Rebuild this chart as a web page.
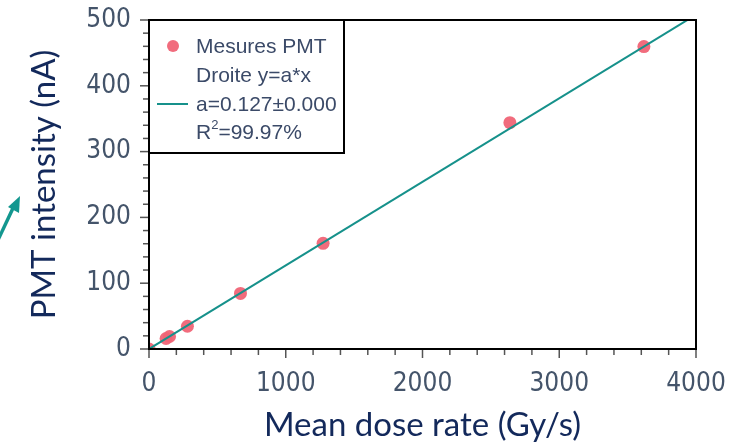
<!DOCTYPE html>
<html>
<head>
<meta charset="utf-8">
<script src="https://cdn.jsdelivr.net/npm/chart.js@4.4.0/dist/chart.umd.min.js"></script>
<style>
  html, body { margin: 0; padding: 0; background: #fff; }
  #wrap { width: 730px; height: 445px; }
</style>
</head>
<body>
<div id="wrap"><canvas id="myChart" width="730" height="445"></canvas></div>
<script>
// measured points (Gy/s, nA)
const doseRate = [0, 125, 150, 281, 669, 1273, 2639, 3619];
const pmtCurrent = [0, 16, 19, 34.6, 84.4, 160.6, 344, 459.6];

// fitted line y = a*x, end points
const fitX = [0, 4000];
const fitY = [0, 508];

const xTicksMajor = [0, 1000, 2000, 3000, 4000];
const yTicksMajor = [0, 100, 200, 300, 400, 500];

const legendLines = ["Mesures PMT", "Droite y=a*x", "a=0.127\u00b10.000", "R2=99.97%"];

const tickColor = "#44546a";
const titleColor = "#13295b";
const dotColor = "rgba(240, 100, 118, 0.95)";
const lineColor = "#16918b";

// frame, minor/major ticks, legend box and the little arrow
const decoPlugin = {
    id: "deco",
    afterDraw(chart) {
        const ctx = chart.ctx;
        const a = chart.chartArea;
        const xs = chart.scales.x;
        const ys = chart.scales.y;
        ctx.save();

        // tick marks
        ctx.strokeStyle = "#555";
        ctx.lineWidth = 1.5;
        xs.ticks.forEach((t) => {
            const px = xs.getPixelForValue(t.value);
            const len = xTicksMajor.includes(t.value) ? 9 : 6;
            ctx.beginPath();
            ctx.moveTo(px, a.bottom);
            ctx.lineTo(px, a.bottom + len);
            ctx.stroke();
        });
        ys.ticks.forEach((t) => {
            const py = ys.getPixelForValue(t.value);
            const len = yTicksMajor.includes(t.value) ? 9 : 6;
            ctx.beginPath();
            ctx.moveTo(a.left, py);
            ctx.lineTo(a.left - len, py);
            ctx.stroke();
        });

        // frame
        ctx.strokeStyle = "#000";
        ctx.lineWidth = 2;
        ctx.strokeRect(a.left, a.top, a.right - a.left, a.bottom - a.top);

        // legend box
        const lx = a.left, ly = a.top;
        ctx.fillStyle = "#fff";
        ctx.fillRect(lx, ly, 195, 133);
        ctx.strokeRect(lx, ly, 195, 133);

        ctx.fillStyle = dotColor;
        ctx.beginPath();
        ctx.arc(lx + 24, ly + 26, 6, 0, Math.PI * 2);
        ctx.fill();

        ctx.strokeStyle = lineColor;
        ctx.lineWidth = 2;
        ctx.beginPath();
        ctx.moveTo(lx + 8, ly + 84);
        ctx.lineTo(lx + 39, ly + 84);
        ctx.stroke();

        const big = "21px 'Liberation Sans', Arial, sans-serif";
        ctx.fillStyle = "#3b4a68";
        ctx.font = big;
        ctx.textBaseline = "middle";
        ctx.textAlign = "left";
        const tx = lx + 47;
        ctx.fillText(legendLines[0], tx, ly + 27);
        ctx.fillText(legendLines[1], tx, ly + 56);
        ctx.fillText(legendLines[2], tx, ly + 85);
        // R^2 with superscript
        ctx.fillText("R", tx, ly + 113);
        const rw = ctx.measureText("R").width;
        ctx.font = "13px 'Liberation Sans', Arial, sans-serif";
        ctx.fillText("2", tx + rw, ly + 105);
        const sw = ctx.measureText("2").width;
        ctx.font = big;
        ctx.fillText("=99.97%", tx + rw + sw, ly + 113);

        // arrow at the left edge
        ctx.strokeStyle = "#13978f";
        ctx.fillStyle = "#13978f";
        ctx.lineWidth = 3.5;
        ctx.beginPath();
        ctx.moveTo(-2, 240);
        ctx.lineTo(14, 206);
        ctx.stroke();
        ctx.beginPath();
        ctx.moveTo(20, 196);
        ctx.lineTo(19, 213);
        ctx.lineTo(8, 207);
        ctx.closePath();
        ctx.fill();

        ctx.restore();
    },
};

const ctx = document.getElementById("myChart").getContext("2d");
const chart = new window.Chart(ctx, {
    type: "scatter",
    data: {
        datasets: [
            {
                label: "Droite y=a*x",
                type: "line",
                data: fitX.map((x, i) => ({ x: x, y: fitY[i] })),
                borderColor: lineColor,
                borderWidth: 2,
                pointRadius: 0,
                fill: false,
            },
            {
                label: "Mesures PMT",
                data: doseRate.map((x, i) => ({ x: x, y: pmtCurrent[i] })),
                backgroundColor: dotColor,
                borderWidth: 0,
                pointRadius: 6.5,
            },
        ],
    },
    plugins: [decoPlugin],
    options: {
        responsive: false,
        animation: false,
        layout: {
            padding: { top: 20, right: 34, left: 0, bottom: 0 },
        },
        plugins: {
            legend: { display: false },
            tooltip: { enabled: false },
        },
        scales: {
            x: {
                type: "linear",
                min: 0,
                max: 4000,
                afterFit: (scale) => {
                    scale.height = 96;
                    scale.paddingLeft = 0;
                    scale.paddingRight = 0;
                },
                grid: { display: false, drawTicks: false },
                border: { display: false },
                ticks: {
                    stepSize: 200,
                    autoSkip: false,
                    maxRotation: 0,
                    padding: 20,
                    color: tickColor,
                    font: { family: "'DejaVu Sans Condensed', 'DejaVu Sans'", size: 26 },
                    callback: (v) => (xTicksMajor.includes(v) ? v : ""),
                },
                title: {
                    display: true,
                    text: "Mean dose rate (Gy/s)",
                    color: titleColor,
                    font: { family: "Lato", size: 33 },
                    padding: { top: 0, bottom: 0 },
                },
            },
            y: {
                type: "linear",
                min: 0,
                max: 500,
                afterFit: (scale) => {
                    scale.width = 149;
                    scale.paddingTop = 0;
                    scale.paddingBottom = 0;
                },
                grid: { display: false, drawTicks: false },
                border: { display: false },
                ticks: {
                    stepSize: 20,
                    autoSkip: false,
                    padding: 18,
                    color: tickColor,
                    font: { family: "'DejaVu Sans Condensed', 'DejaVu Sans'", size: 26 },
                    callback: (v) => (yTicksMajor.includes(v) ? v : ""),
                },
                title: {
                    display: true,
                    text: "PMT intensity (nA)",
                    color: titleColor,
                    font: { family: "Lato", size: 33 },
                    padding: { top: 25, bottom: 0 },
                },
            },
        },
    },
});
</script>
</body>
</html>
